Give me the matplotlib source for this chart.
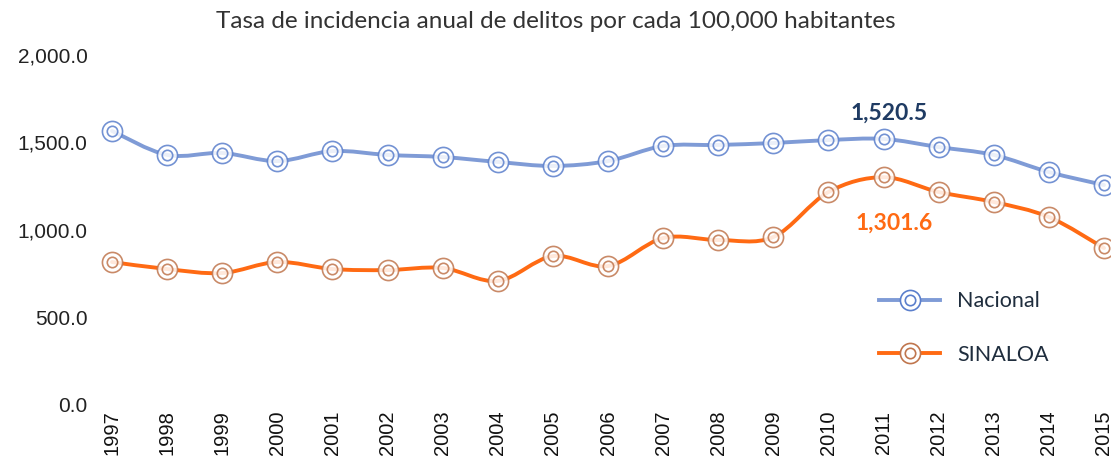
import matplotlib.pyplot as plt
import numpy as np
from matplotlib.path import Path
from matplotlib.patches import PathPatch
from matplotlib.ticker import FuncFormatter
from matplotlib.lines import Line2D

years = list(range(1997, 2016))
nacional = [1566, 1429, 1440, 1394, 1451, 1429, 1417, 1389, 1366, 1394,
            1480, 1486, 1497, 1514, 1520.5, 1474, 1429, 1331, 1257]
sinaloa = [817, 777, 754, 817, 777, 771, 783, 709, 851, 794,
           954, 943, 960, 1217, 1301.6, 1217, 1160, 1074, 897]

c_nac = "#7F9BD6"
c_nac_mk = "#5B7FCC"
c_sin = "#FF6A13"
c_sin_mk = "#C0764E"


def smooth_path(x, y):
    # Catmull-Rom style bezier through the points (like Excel smoothed lines)
    x = np.asarray(x, float)
    y = np.asarray(y, float)
    verts = [(x[0], y[0])]
    codes = [Path.MOVETO]
    n = len(x)
    for i in range(n - 1):
        p0 = i - 1 if i > 0 else i
        p3 = i + 2 if i + 2 < n else i + 1
        c1 = (x[i] + (x[i + 1] - x[p0]) / 6, y[i] + (y[i + 1] - y[p0]) / 6)
        c2 = (x[i + 1] - (x[p3] - x[i]) / 6, y[i + 1] - (y[p3] - y[i]) / 6)
        verts += [c1, c2, (x[i + 1], y[i + 1])]
        codes += [Path.CURVE4] * 3
    return Path(verts, codes)


fig = plt.figure(figsize=(11.15, 4.66), dpi=100)
ax = fig.add_axes([100 / 1115, 1 - 405 / 466, 1010 / 1115, 350 / 466])

for vals, lc, mc in [(nacional, c_nac, c_nac_mk), (sinaloa, c_sin, c_sin_mk)]:
    ax.add_patch(PathPatch(smooth_path(years, vals), fill=False, edgecolor=lc,
                           lw=2.8, zorder=2, capstyle="round"))
    ax.plot(years, vals, ls="none", marker="o", ms=14.5, mfc=(1, 1, 1, 0.55), mec=mc,
            mew=1.2, alpha=0.85, zorder=3)
    ax.plot(years, vals, ls="none", marker="o", ms=7.5, mfc="none", mec=mc,
            mew=1.2, alpha=0.85, zorder=4)

ax.set_xlim(1997 - 12 / 55.11, 2015 + 6 / 55.11)
ax.set_ylim(0, 2000)
ax.set_yticks([0, 500, 1000, 1500, 2000])
ax.yaxis.set_major_formatter(FuncFormatter(lambda v, p: f"{v:,.1f}"))
ax.set_xticks(years)
ax.set_xticklabels([str(y) for y in years], rotation=90, family="Liberation Sans")
ax.tick_params(axis="x", length=0, labelsize=14.5, pad=4, labelcolor="#111111")
ax.tick_params(axis="y", length=0, labelsize=15, pad=9, labelcolor="#222222")
for lbl in ax.get_yticklabels():
    lbl.set_family("Liberation Sans")
for s in ax.spines.values():
    s.set_visible(False)

ax.text(2011.1, 1670, "1,520.5", ha="center", va="center", fontsize=16.5,
        fontweight="bold", color="#1F3B63", family="Lato")
ax.text(2011.2, 1040, "1,301.6", ha="center", va="center", fontsize=16.5,
        fontweight="bold", color=c_sin, family="Lato")

handles = []
for lc, mc, name in [(c_nac, c_nac_mk, "Nacional"), (c_sin, c_sin_mk, "SINALOA")]:
    h1 = Line2D([], [], color=lc, lw=2.8, marker="o", ms=14.5, mfc="white", mec=mc, mew=1.2)
    h2 = Line2D([], [], ls="none", marker="o", ms=7.5, mfc="none", mec=mc, mew=1.2)
    handles.append((h1, h2))
ax.legend(handles, ["Nacional", "SINALOA"], loc="upper left",
          bbox_to_anchor=(760 / 1010, 0.38), frameon=False,
          handlelength=2.8, labelspacing=1.55, prop={"family": "Lato", "size": 15.5},
          labelcolor="#1F2D3D")

fig.text(556 / 1115, 1 - 22 / 466, "Tasa de incidencia anual de delitos por cada 100,000 habitantes",
         ha="center", va="center", fontsize=17.5, family="Lato", color="#333333")

fig.savefig("out.png", dpi=100)
